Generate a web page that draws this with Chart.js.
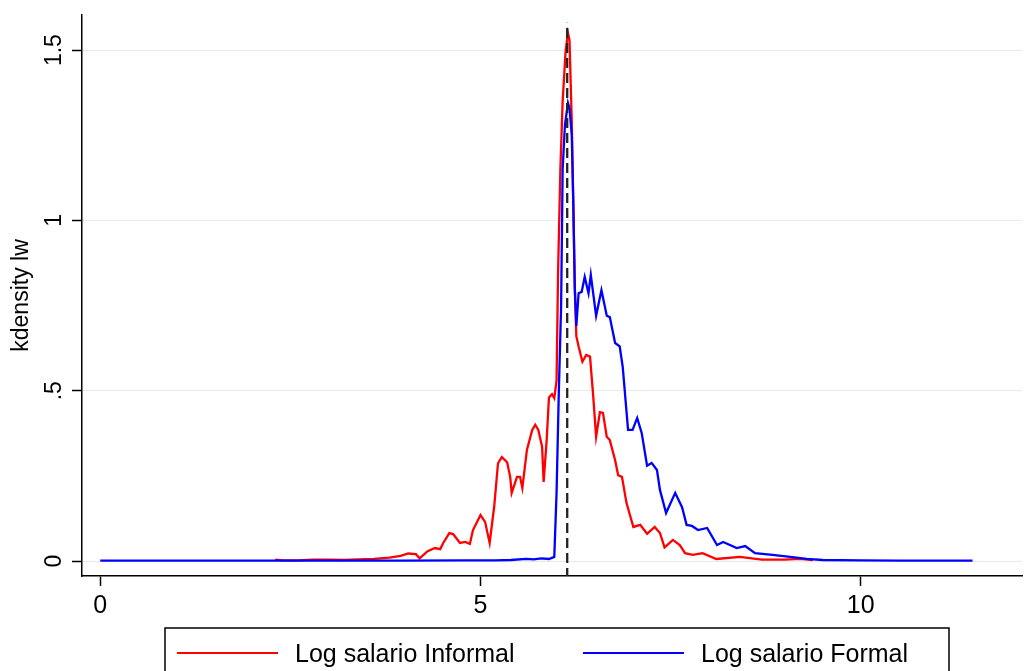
<!DOCTYPE html>
<html>
<head>
<meta charset="utf-8">
<script src="https://cdn.jsdelivr.net/npm/chart.js@4"></script>
<style>
  html, body { margin: 0; padding: 0; background: #fff; }
  #wrap { width: 1024px; height: 671px; }
</style>
</head>
<body>
<div id="wrap"><canvas id="myChart" width="1024" height="671"></canvas></div>
<script>
// kdensity of log wage, informal vs formal workers

// informal (red)
let informalX = [2.30, 2.40, 2.60, 2.80, 3.00, 3.20, 3.40, 3.60, 3.80, 3.95, 4.05, 4.15, 4.20, 4.30, 4.40, 4.47,
    4.51, 4.59, 4.64, 4.73, 4.80, 4.86, 4.90, 5.00, 5.06, 5.12, 5.18, 5.23, 5.28, 5.35, 5.39, 5.41, 5.48, 5.52,
    5.55, 5.61, 5.68, 5.72, 5.76, 5.81, 5.83, 5.87, 5.90, 5.94, 5.97, 6.00, 6.02, 6.05, 6.08, 6.12, 6.15, 6.17,
    6.20, 6.22, 6.24, 6.26, 6.29, 6.34, 6.39, 6.44, 6.48, 6.52, 6.57, 6.61, 6.66, 6.70, 6.77, 6.81, 6.86, 6.92,
    7.01, 7.10, 7.19, 7.29, 7.36, 7.42, 7.53, 7.62, 7.69, 7.79, 7.92, 8.10, 8.41, 8.70, 9.00, 9.20, 9.37]
let informalY = [0.004, 0.002, 0.002, 0.004, 0.004, 0.003, 0.005, 0.006, 0.010, 0.015, 0.022, 0.020, 0.008, 0.028, 0.038, 0.035,
    0.053, 0.082, 0.079, 0.053, 0.056, 0.050, 0.090, 0.135, 0.115, 0.053, 0.160, 0.287, 0.305, 0.290, 0.247, 0.200, 0.247, 0.247,
    0.214, 0.326, 0.385, 0.400, 0.385, 0.335, 0.232, 0.355, 0.480, 0.490, 0.478, 0.530, 0.850, 1.150, 1.350, 1.500, 1.550, 1.530,
    1.290, 1.050, 0.800, 0.660, 0.630, 0.585, 0.605, 0.600, 0.490, 0.365, 0.437, 0.435, 0.365, 0.355, 0.296, 0.252, 0.247, 0.170,
    0.100, 0.106, 0.080, 0.100, 0.082, 0.040, 0.062, 0.047, 0.023, 0.018, 0.023, 0.006, 0.012, 0.004, 0.004, 0.006, 0.003]

// formal (blue)
let formalX = [0.00, 1.00, 2.00, 3.00, 4.00, 4.80, 5.20, 5.40, 5.60, 5.70, 5.80, 5.90, 5.97, 6.00, 6.03, 6.06, 6.08,
    6.11, 6.15, 6.17, 6.20, 6.22, 6.24, 6.26, 6.29, 6.33, 6.37, 6.42, 6.45, 6.52, 6.59, 6.66, 6.70, 6.77, 6.83, 6.87,
    6.94, 7.00, 7.06, 7.12, 7.19, 7.25, 7.32, 7.36, 7.44, 7.56, 7.65, 7.71, 7.78, 7.86, 7.98, 8.11, 8.19, 8.37, 8.48,
    8.61, 8.84, 9.07, 9.29, 9.50, 10.00, 10.50, 11.00, 11.47]
let formalY = [0.001, 0.001, 0.001, 0.001, 0.001, 0.002, 0.002, 0.003, 0.006, 0.005, 0.008, 0.006, 0.012, 0.200, 0.500, 0.750, 1.150,
    1.280, 1.345, 1.330, 1.250, 1.050, 0.800, 0.690, 0.786, 0.790, 0.834, 0.786, 0.840, 0.720, 0.795, 0.720, 0.716, 0.640, 0.630, 0.570,
    0.385, 0.385, 0.420, 0.375, 0.280, 0.288, 0.267, 0.208, 0.141, 0.200, 0.158, 0.106, 0.103, 0.091, 0.097, 0.047, 0.056, 0.038, 0.044,
    0.023, 0.018, 0.012, 0.006, 0.003, 0.002, 0.001, 0.001, 0.001]

// vertical dashed reference line (log minimum wage)
let refX = [6.14, 6.14]
let refY = [-0.05, 1.58]

let xTickValues = [0, 5, 10]
let yTickValues = [0, 0.5, 1, 1.5]
let yTickLabels = ['0', '.5', '1', '1.5']

let seriesNames = ['Log salario Informal', 'Log salario Formal']
let seriesColors = ['#ff0000', '#0000ff']

let toPoints = (xs, ys) => xs.map((x, i) => ({ x: x, y: ys[i] }))

let fontFamily = '"Liberation Sans", Arial, sans-serif'

// boxed legend under the plot, like stata draws it
let boxLegend = {
    id: 'boxLegend',
    afterDraw(chart) {
        let ctx = chart.ctx
        let top = 628
        let left = 165
        let right = 949
        ctx.save()
        ctx.strokeStyle = '#000'
        ctx.lineWidth = 1.5
        ctx.strokeRect(left, top, right - left, 80)

        ctx.font = '25px ' + fontFamily
        ctx.fillStyle = '#000'
        ctx.textBaseline = 'middle'
        let starts = [177, 583]
        seriesNames.forEach((name, i) => {
            let x0 = starts[i]
            ctx.strokeStyle = seriesColors[i]
            ctx.lineWidth = 2.2
            ctx.beginPath()
            ctx.moveTo(x0, 653)
            ctx.lineTo(x0 + 101, 653)
            ctx.stroke()
            ctx.fillText(name, x0 + 118, 655)
        })
        ctx.restore()
    }
}

let ctx = document.getElementById('myChart').getContext('2d')

let myChart = new Chart(ctx, {
    type: 'scatter',
    data: {
        datasets: [{
            label: seriesNames[0],
            data: toPoints(informalX, informalY),
            borderColor: seriesColors[0],
            backgroundColor: seriesColors[0],
            borderWidth: 2.3,
            showLine: true,
            pointRadius: 0,
            tension: 0,
            order: 3
        }, {
            label: seriesNames[1],
            data: toPoints(formalX, formalY),
            borderColor: seriesColors[1],
            backgroundColor: seriesColors[1],
            borderWidth: 2.3,
            showLine: true,
            pointRadius: 0,
            tension: 0,
            order: 2
        }, {
            label: 'ref',
            data: toPoints(refX, refY),
            borderColor: '#222',
            borderWidth: 2.3,
            borderDash: [10, 5],
            showLine: true,
            pointRadius: 0,
            order: 1
        }]
    },
    options: {
        responsive: false,
        animation: false,
        layout: { padding: { top: 15, right: 2, bottom: 45, left: 0 } },
        plugins: {
            legend: { display: false },
            tooltip: { enabled: false }
        },
        scales: {
            x: {
                type: 'linear',
                min: -0.24,
                max: 12.12,
                afterBuildTicks: scale => { scale.ticks = xTickValues.map(v => ({ value: v })) },
                afterFit: scale => { scale.height = 50 },
                border: { display: true, color: '#000', width: 1.5 },
                grid: { drawOnChartArea: false, tickLength: 10, tickColor: '#000', tickWidth: 1.5 },
                ticks: {
                    color: '#000',
                    padding: 5,
                    maxRotation: 0,
                    font: { family: fontFamily, size: 25 }
                }
            },
            y: {
                min: -0.044,
                max: 1.603,
                afterBuildTicks: scale => { scale.ticks = yTickValues.map(v => ({ value: v })) },
                afterFit: scale => { scale.width = 82 },
                border: { display: true, color: '#000', width: 1.5 },
                grid: { color: '#e4ebee', lineWidth: 1, tickLength: 10, tickColor: '#000', tickWidth: 1.5 },
                title: {
                    display: true,
                    text: 'kdensity lw',
                    color: '#000',
                    font: { family: fontFamily, size: 23 },
                    padding: { top: 8, bottom: 0 }
                },
                ticks: {
                    color: '#000',
                    minRotation: 90,
                    maxRotation: 90,
                    crossAlign: 'center',
                    padding: 1,
                    font: { family: fontFamily, size: 23 },
                    callback: (value) => {
                        let i = yTickValues.indexOf(value)
                        return i >= 0 ? yTickLabels[i] : ''
                    }
                }
            }
        }
    },
    plugins: [boxLegend]
});
</script>
</body>
</html>
